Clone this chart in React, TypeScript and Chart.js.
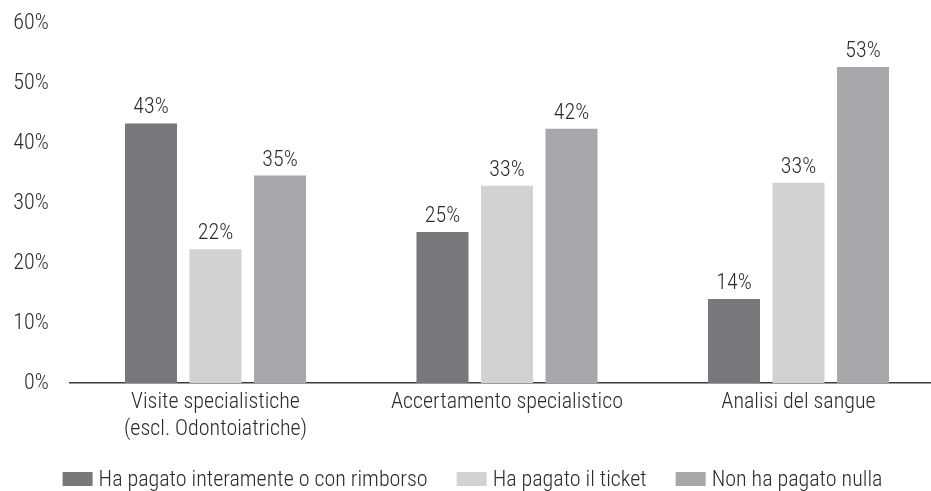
import React, { useEffect, useRef } from "react";
import { Chart, registerables } from "chart.js";

Chart.register(...registerables);

const CATEGORIES: string[][] = [
  ["Visite specialistiche", "(escl. Odontoiatriche)"],
  ["Accertamento specialistico"],
  ["Analisi del sangue"],
];
const SERIES_NAMES = [
  "Ha pagato interamente o con rimborso",
  "Ha pagato il ticket",
  "Non ha pagato nulla",
];
const PAID_FULL = [43.3, 25.2, 14.0];
const PAID_TICKET = [22.3, 32.9, 33.4];
const PAID_NOTHING = [34.6, 42.4, 52.7];
const Y_TICKS = [0, 10, 20, 30, 40, 50, 60];

const COLORS = ["#77787b", "#d1d2d4", "#a7a8ab"];
const TEXT = "#2b2b2b";
const FONT = "'Roboto Condensed', 'Liberation Sans Narrow', 'DejaVu Sans Condensed', sans-serif";
const FS = 22;
const FW = 300;

const dataLabels = {
  id: "dataLabels",
  afterDatasetsDraw(chart: any) {
    const ctx = chart.ctx;
    ctx.save();
    ctx.font = `${FW} ${FS}px ${FONT}`;
    ctx.fillStyle = TEXT;
    ctx.textAlign = "center";
    ctx.textBaseline = "alphabetic";
    chart.data.datasets.forEach((ds: any, di: number) => {
      const meta = chart.getDatasetMeta(di);
      meta.data.forEach((el: any, i: number) => {
        const v = ds.data[i].y;
        ctx.fillText(`${Math.round(v)}%`, el.x, el.y - 10);
      });
    });
    ctx.restore();
  },
};

const customLegend = {
  id: "customLegend",
  afterDraw(chart: any) {
    const ctx = chart.ctx;
    ctx.save();
    ctx.font = `${FW} ${FS}px ${FONT}`;
    const boxW = 30;
    const boxH = 14;
    const gapText = 6;
    const gapItem = 29;
    const names = chart.data.datasets.map((d: any) => d.label);
    const widths = names.map((n: string) => ctx.measureText(n).width);
    const total =
      widths.reduce((a: number, w: number) => a + boxW + gapText + w, 0) +
      gapItem * (widths.length - 1);
    let x = (chart.width - total) / 2 + 7;
    const cy = chart.height - 12;
    ctx.textBaseline = "middle";
    ctx.textAlign = "left";
    names.forEach((n: string, i: number) => {
      ctx.fillStyle = chart.data.datasets[i].backgroundColor;
      ctx.fillRect(x, cy - boxH / 2, boxW, boxH);
      ctx.fillStyle = TEXT;
      ctx.fillText(n, x + boxW + gapText, cy + 1);
      x += boxW + gapText + widths[i] + gapItem;
    });
    ctx.restore();
  },
};

export default function App() {
  const ref = useRef<HTMLCanvasElement | null>(null);
  useEffect(() => {
    if (!ref.current) return;
    const series = [PAID_FULL, PAID_TICKET, PAID_NOTHING];
    const plotLeft = 69.75;
    const spacing = 291.5;
    const width = 931;
    const xMax = (width - plotLeft) / spacing - 0.5;
    const chart = new Chart(ref.current, {
      type: "bar",
      data: {
        datasets: series.map((s, si) => ({
          label: SERIES_NAMES[si],
          data: s.map((v, i) => ({ x: i, y: v })),
          backgroundColor: COLORS[si],
          borderWidth: 0,
          categoryPercentage: 0.664,
          barPercentage: 0.806,
        })),
      },
      options: {
        animation: false,
        responsive: true,
        maintainAspectRatio: false,
        layout: { padding: { top: 23.3, left: 0, right: 0, bottom: 46 } },
        plugins: {
          legend: { display: false },
          tooltip: { enabled: false },
        },
        scales: {
          x: {
            type: "linear",
            min: -0.5,
            max: xMax,
            offset: false,
            grid: { display: false, drawTicks: false },
            border: { display: true, color: "#3a3a3a", width: 1.5 },
            afterBuildTicks: (scale: any) => {
              scale.ticks = CATEGORIES.map((_, i) => ({ value: i }));
            },
            afterFit: (scale: any) => {
              scale.height = 62;
            },
            ticks: {
              autoSkip: false,
              maxRotation: 0,
              minRotation: 0,
              padding: 6,
              color: TEXT,
              font: { family: FONT, size: FS, weight: FW, lineHeight: 27 / 22 },
              callback: (v: any) => CATEGORIES[Math.round(v)] ?? "",
            },
          },
          y: {
            min: 0,
            max: 60,
            grid: { display: false, drawTicks: true, tickLength: 21 },
            border: { display: false },
            afterBuildTicks: (scale: any) => {
              scale.ticks = Y_TICKS.map((v) => ({ value: v }));
            },
            afterFit: (scale: any) => {
              scale.width = plotLeft;
            },
            ticks: {
              padding: 0,
              color: TEXT,
              font: { family: FONT, size: FS, weight: FW },
              callback: (v: any) => `${v}%`,
            },
          },
        },
      },
      plugins: [dataLabels, customLegend],
    });
    return () => chart.destroy();
  }, []);
  return (
    <div style={{ position: "fixed", left: 0, top: 0, width: 931, height: 491, background: "#fff" }}>
      <canvas ref={ref} />
    </div>
  );
}
